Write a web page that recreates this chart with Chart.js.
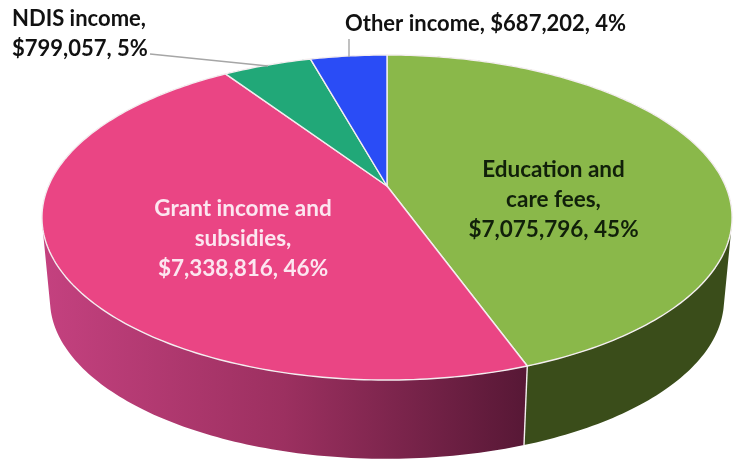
<!DOCTYPE html>
<html>
<head>
<meta charset="utf-8">
<title>Income</title>
<script src="https://cdn.jsdelivr.net/npm/chart.js@4"></script>
<style>
	html, body { margin: 0; padding: 0; background: #fff; }
	canvas { display: block; }
</style>
</head>
<body>
<canvas id="canvas" width="741" height="460"></canvas>
<script>
const categories = ['Education and care fees', 'Grant income and subsidies', 'NDIS income', 'Other income'];
const incomeValues = [7075796, 7338816, 799057, 687202];
const percentLabels = ['45%', '46%', '5%', '4%'];
const sliceColors = ['#8ab84a', '#ea4584', '#21a878', '#2a4cf6'];
const sideColors = [
	[[0, '#3a4d1a'], [1, '#3a4d1a']],
	[[0, '#c4417f'], [0.5, '#9c3060'], [1, '#581836']],
	[[0, '#176e4f'], [1, '#176e4f']],
	[[0, '#1a2f9c'], [1, '#1a2f9c']]
];

// how each label is broken into lines, and where it sits
const labelLayouts = [
	{ lines: ['Education and', 'care fees,', '$V, P'], x: 553.5, y: 177, size: 22.5, lineHeight: 30, align: 'center', color: '#11200a' },
	{ lines: ['Grant income and', 'subsidies,', '$V, P'], x: 243, y: 216, size: 22.5, lineHeight: 30, align: 'center', color: '#fce6f0' },
	{ lines: ['NDIS income,', '$V, P'], x: 12, y: 26, size: 22, lineHeight: 30, align: 'left', color: '#111' },
	{ lines: ['Other income, $V, P'], x: 345, y: 31, size: 22, lineHeight: 30, align: 'left', color: '#111' }
];
const leaderLines = [
	[150, 54, 268, 66],
	[349, 39, 349, 57]
];

// tilted disc: perspective on the unit circle, top face and bottom rim
const tilt = 0.194;
const topFace = { x: 387, y: 186, a: 338.5, b: 156.4 };
const bottomRim = { x: 387, y: 269, a: 330.6, b: 153 };

function project(face, angle) {
	const u = Math.cos(angle), v = Math.sin(angle);
	const w = 1 - tilt * v;
	return [face.x + face.a * u / w, face.y + face.b * v / w];
}

function traceRim(ctx, face, from, to) {
	const steps = Math.max(2, Math.ceil(Math.abs(to - from) * 60));
	for (let i = 0; i <= steps; i++) {
		const p = project(face, from + (to - from) * i / steps);
		ctx.lineTo(p[0], p[1]);
	}
}

// wall of one slice as one path of small quads, all wound the same way so the
// fill is their union; the outline then follows the tangent between the rims
function fillWall(ctx, arc, style) {
	const steps = Math.ceil((arc.endAngle - arc.startAngle) * 60);
	const size = (arc.endAngle - arc.startAngle) / steps;
	ctx.beginPath();
	for (let i = 0; i < steps; i++) {
		const a0 = arc.startAngle + i * size, a1 = a0 + size;
		const p = [project(topFace, a0), project(topFace, a1), project(bottomRim, a1), project(bottomRim, a0)];
		let area = 0;
		for (let k = 0; k < 4; k++) {
			const q = p[(k + 1) % 4];
			area += p[k][0] * q[1] - q[0] * p[k][1];
		}
		if (area < 0) p.reverse();
		ctx.moveTo(p[0][0], p[0][1]);
		ctx.lineTo(p[1][0], p[1][1]);
		ctx.lineTo(p[2][0], p[2][1]);
		ctx.lineTo(p[3][0], p[3][1]);
		ctx.closePath();
	}
	ctx.fillStyle = style;
	ctx.fill();
}

const tiltedPie = {
	id: 'tiltedPie',
	beforeDatasetsDraw(chart) {
		const ctx = chart.ctx;
		const arcs = chart.getDatasetMeta(0).data;
		ctx.save();
		ctx.lineJoin = 'round';

		// walls first, the top face covers whatever is at the back
		arcs.forEach(function(arc, i) {
			const grad = ctx.createLinearGradient(45, 0, 523, 0);
			sideColors[i].forEach(function(s) { grad.addColorStop(s[0], s[1]); });
			fillWall(ctx, arc, grad);
		});

		// seams between the walls
		ctx.strokeStyle = '#f4eef0';
		ctx.lineWidth = 1.4;
		arcs.forEach(function(arc) {
			const a = project(topFace, arc.endAngle), b = project(bottomRim, arc.endAngle);
			ctx.beginPath();
			ctx.moveTo(a[0], a[1]);
			ctx.lineTo(b[0], b[1]);
			ctx.stroke();
		});

		arcs.forEach(function(arc) {
			ctx.beginPath();
			ctx.moveTo(topFace.x, topFace.y);
			traceRim(ctx, topFace, arc.startAngle, arc.endAngle);
			ctx.closePath();
			ctx.fillStyle = arc.options.backgroundColor;
			ctx.fill();
			ctx.stroke();
		});
		ctx.restore();
		return false;
	},
	afterDraw(chart) {
		const ctx = chart.ctx;
		ctx.save();
		ctx.strokeStyle = '#a6a6a6';
		ctx.lineWidth = 1.4;
		leaderLines.forEach(function(l) {
			ctx.beginPath();
			ctx.moveTo(l[0], l[1]);
			ctx.lineTo(l[2], l[3]);
			ctx.stroke();
		});

		ctx.textBaseline = 'alphabetic';
		labelLayouts.forEach(function(label, i) {
			ctx.font = 'bold ' + label.size + 'px Lato';
			ctx.fillStyle = label.color;
			ctx.textAlign = label.align;
			label.lines.forEach(function(line, n) {
				const text = line.replace('V', incomeValues[i].toLocaleString('en-US')).replace('P', percentLabels[i]);
				ctx.fillText(text, label.x, label.y + n * label.lineHeight);
			});
		});
		ctx.restore();
	}
};

new Chart(document.getElementById('canvas'), {
	type: 'pie',
	data: {
		labels: categories,
		datasets: [{ data: incomeValues, backgroundColor: sliceColors }]
	},
	options: {
		responsive: false,
		animation: false,
		plugins: {
			legend: { display: false },
			tooltip: { enabled: false }
		}
	},
	plugins: [tiltedPie]
});
</script>
</body>
</html>
